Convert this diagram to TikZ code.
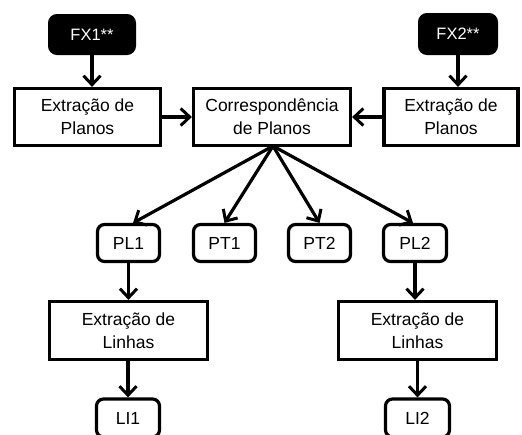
\documentclass[tikz,border=0pt]{standalone}
\usepackage{fontspec}
\setmainfont{Liberation Sans}
\usetikzlibrary{arrows.meta}
\begin{document}
\begin{tikzpicture}[x=1pt,y=-1pt,
  every node/.style={font=\fontsize{17.5}{23}\selectfont, align=center, inner sep=0pt},
  procbox/.style={draw=black, line width=3.2pt, fill=white},
  darkbox/.style={fill=black, draw=black, line width=2pt, rounded corners=8pt, text=white, font=\fontsize{16.5}{20}\selectfont},
  smallbox/.style={draw=black, line width=3.2pt, rounded corners=7pt, fill=white},
  conn/.style={line width=3.2pt, -{Straight Barb[length=9pt,width=17pt,line width=3pt]}}
]
\useasboundingbox (0,0) rectangle (522,434);
\clip (0,0) rectangle (522,434);
\fill[white] (0,0) rectangle (522,434);

\node[darkbox, minimum width=86pt, minimum height=39pt] (fx1) at (92,34.5) {FX1**};
\node[darkbox, minimum width=78pt, minimum height=40pt] (fx2) at (458,34) {FX2**};

\node[procbox, minimum width=146pt, minimum height=57pt] (e1) at (87.5,117) {Extração de\\Planos};
\node[procbox, minimum width=157pt, minimum height=57pt] (c) at (272,117) {Correspondência\\de Planos};
\node[procbox, minimum width=134pt, minimum height=57pt] (e2) at (451,117) {Extração de\\Planos};

\node[smallbox, minimum width=62pt, minimum height=37pt] (pl1) at (128.5,243) {PL1};
\node[smallbox, minimum width=62pt, minimum height=37pt] (pt1) at (224.5,243) {PT1};
\node[smallbox, minimum width=62pt, minimum height=37pt] (pt2) at (319.5,243) {PT2};
\node[smallbox, minimum width=63pt, minimum height=37pt] (pl2) at (415,243) {PL2};

\node[procbox, minimum width=158pt, minimum height=58pt] (l1) at (128.5,330.5) {Extração de\\Linhas};
\node[procbox, minimum width=158pt, minimum height=58pt] (l2) at (417.5,330.5) {Extração de\\Linhas};

\node[smallbox, minimum width=63pt, minimum height=38pt] (li1) at (128,418) {LI1};
\node[smallbox, minimum width=64pt, minimum height=38pt] (li2) at (417.5,418) {LI2};

\draw[conn] (fx1.south) -- (e1.north -| fx1.south);
\draw[conn] (fx2.south) -- (e2.north -| fx2.south);
\draw[conn] (e1.east) -- (c.west);
\draw[conn] (e2.west) -- (c.east);
\coordinate (csrc) at (273,146);
\draw[conn] (csrc) -- (133,223);
\draw[conn] (csrc) -- (pt1.north);
\draw[conn] (csrc) -- (pt2.north);
\draw[conn] (csrc) -- (413,223);
\draw[conn] (pl1.south) -- (l1.north -| pl1.south);
\draw[conn] (pl2.south) -- (l2.north -| pl2.south);
\draw[conn] (l1.south -| li1.north) -- (li1.north);
\draw[conn] (l2.south) -- (li2.north);
\end{tikzpicture}
\end{document}
